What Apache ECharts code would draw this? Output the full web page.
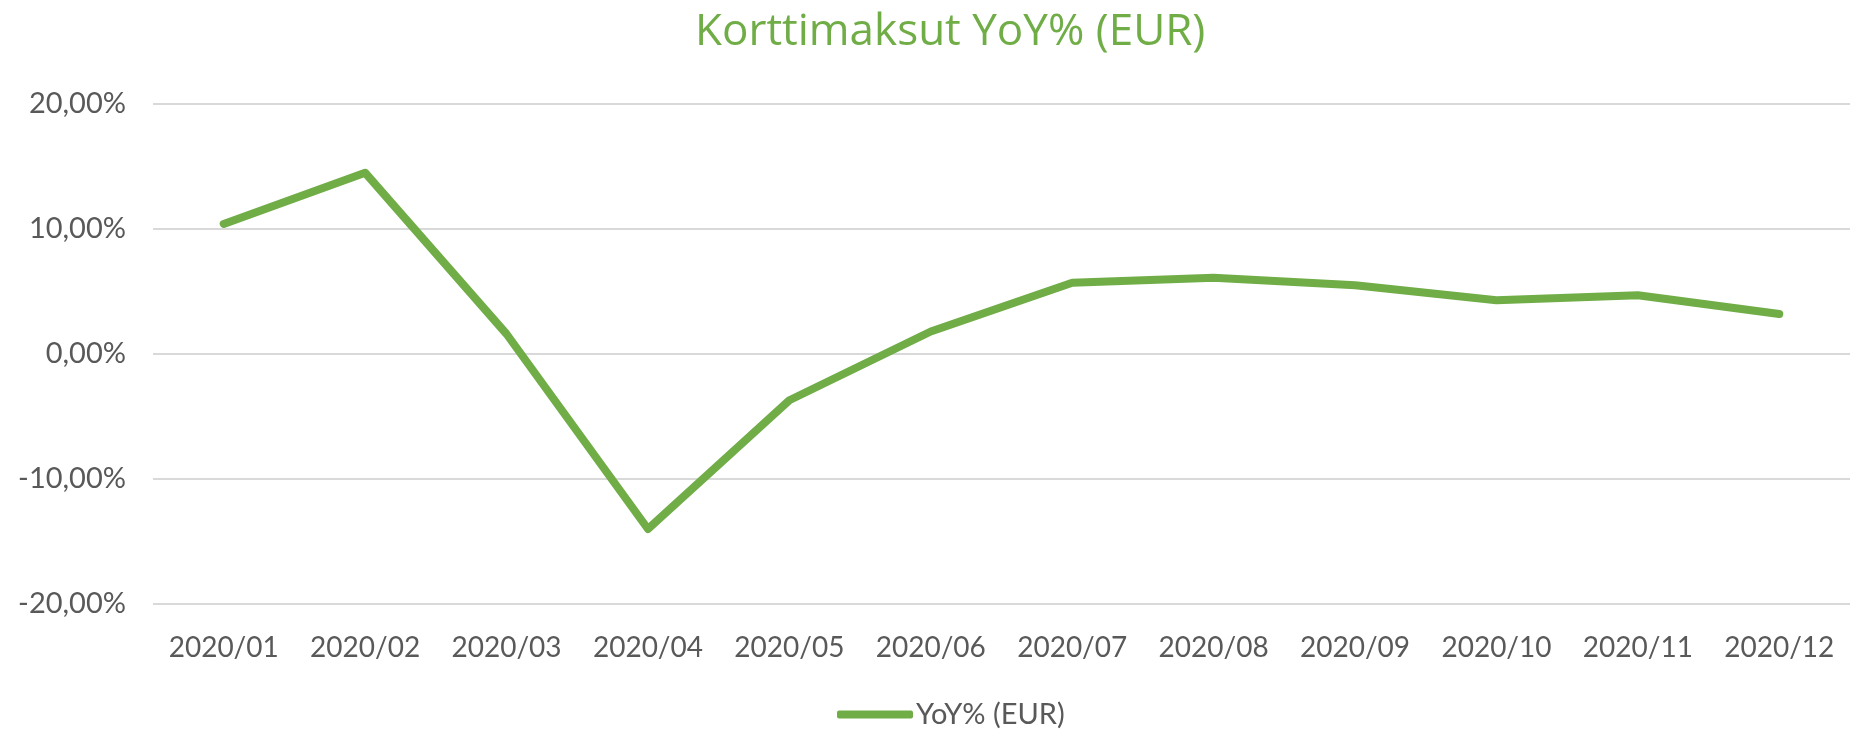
<!DOCTYPE html>
<html>
<head>
<meta charset="utf-8">
<script src="https://cdn.jsdelivr.net/npm/echarts@6/dist/echarts.min.js"></script>
<style>
  html, body { margin: 0; padding: 0; background: #fff; }
  #main { width: 1850px; height: 736px; }
</style>
</head>
<body>
<div id="main"></div>
<script>
// kuukaudet ja YoY-muutos prosentteina
const months = ['2020/01', '2020/02', '2020/03', '2020/04', '2020/05', '2020/06',
                '2020/07', '2020/08', '2020/09', '2020/10', '2020/11', '2020/12'];
const yoy = [10.4, 14.5, 1.6, -14.0, -3.7, 1.8, 5.7, 6.1, 5.5, 4.3, 4.7, 3.2];
const yTicks = [-20, -10, 0, 10, 20];

const green = '#70AD47';
const grey = '#595959';
const font = 'Lato';

const chart = echarts.init(document.getElementById('main'));
chart.setOption({
    animation: false,
    title: {
        text: 'Korttimaksut YoY% (EUR)',
        left: 690,
        top: 5,
        textStyle: { color: green, fontSize: 44, fontWeight: 'normal', fontFamily: 'Open Sans' }
    },
    legend: {
        bottom: 2,
        left: 832,
        icon: 'roundRect',
        itemWidth: 76,
        itemHeight: 8,
        itemGap: 4,
        textStyle: { color: grey, fontSize: 29, fontFamily: font, padding: [0, 0, 0, -2] },
        data: ['YoY% (EUR)']
    },
    grid: { left: 153, top: 104, width: 1713, height: 500 },
    xAxis: {
        type: 'category',
        data: months,
        boundaryGap: true,
        axisLine: { show: false },
        axisTick: { show: false },
        axisLabel: { color: grey, fontSize: 28, fontFamily: font, margin: 30, interval: 0 }
    },
    yAxis: {
        type: 'value',
        min: yTicks[0],
        max: yTicks[yTicks.length - 1],
        interval: 10,
        axisLine: { show: false },
        axisTick: { show: false },
        splitLine: { lineStyle: { color: '#D9D9D9', width: 2 } },
        axisLabel: {
            color: grey, fontSize: 29, fontFamily: font, margin: 27,
            formatter: v => v.toFixed(2).replace('.', ',') + '%'
        }
    },
    series: [{
        name: 'YoY% (EUR)',
        type: 'line',
        data: yoy,
        symbol: 'none',
        lineStyle: { color: green, width: 8, cap: 'round', join: 'round' },
        itemStyle: { color: green }
    }]
});
</script>
</body>
</html>
